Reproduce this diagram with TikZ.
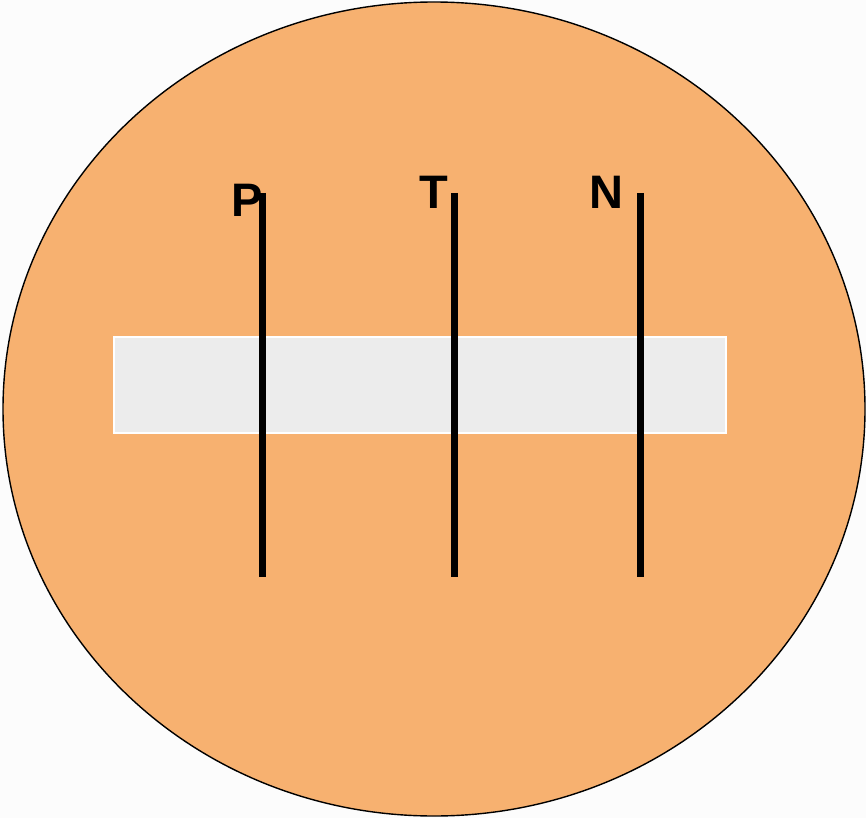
\documentclass[tikz,border=0pt]{standalone}
\usepackage{fontspec}
\setmainfont{Liberation Sans}
\usepackage{tikz}
\usetikzlibrary{positioning}
\definecolor{discorange}{RGB}{247,177,112}
\definecolor{bandgray}{RGB}{236,236,236}
\definecolor{pagebg}{RGB}{252,252,252}

\begin{document}
\begin{tikzpicture}[x=1pt,y=-1pt,
  bar/.style={line width=7pt,black},
  lbl/.style={anchor=base,inner sep=0pt,font=\fontsize{47}{47}\selectfont\bfseries}]
\fill[pagebg] (0,0) rectangle (866,818);
\useasboundingbox (0,0) rectangle (866,818);

\draw[fill=discorange,line width=1.4pt] (434,409) ellipse [x radius=431,y radius=407];
\node[draw=white,fill=bandgray,line width=1.5pt,minimum width=612pt,minimum height=96pt,inner sep=0pt] (band) at (420,385) {};

\coordinate (ptop) at (262,193); \coordinate (pbot) at (262,577);
\coordinate (ttop) at (454,193); \coordinate (tbot) at (454,577);
\coordinate (ntop) at (640,193); \coordinate (nbot) at (640,577);

\draw[bar] (ptop)--(pbot);
\draw[bar] (ttop)--(tbot);
\draw[bar] (ntop)--(nbot);

\node[lbl] (p) at (247,217) {P};
\node[lbl] (t) at (434,208) {T};
\node[lbl] (n) at (606,208) {N};
\end{tikzpicture}
\end{document}
